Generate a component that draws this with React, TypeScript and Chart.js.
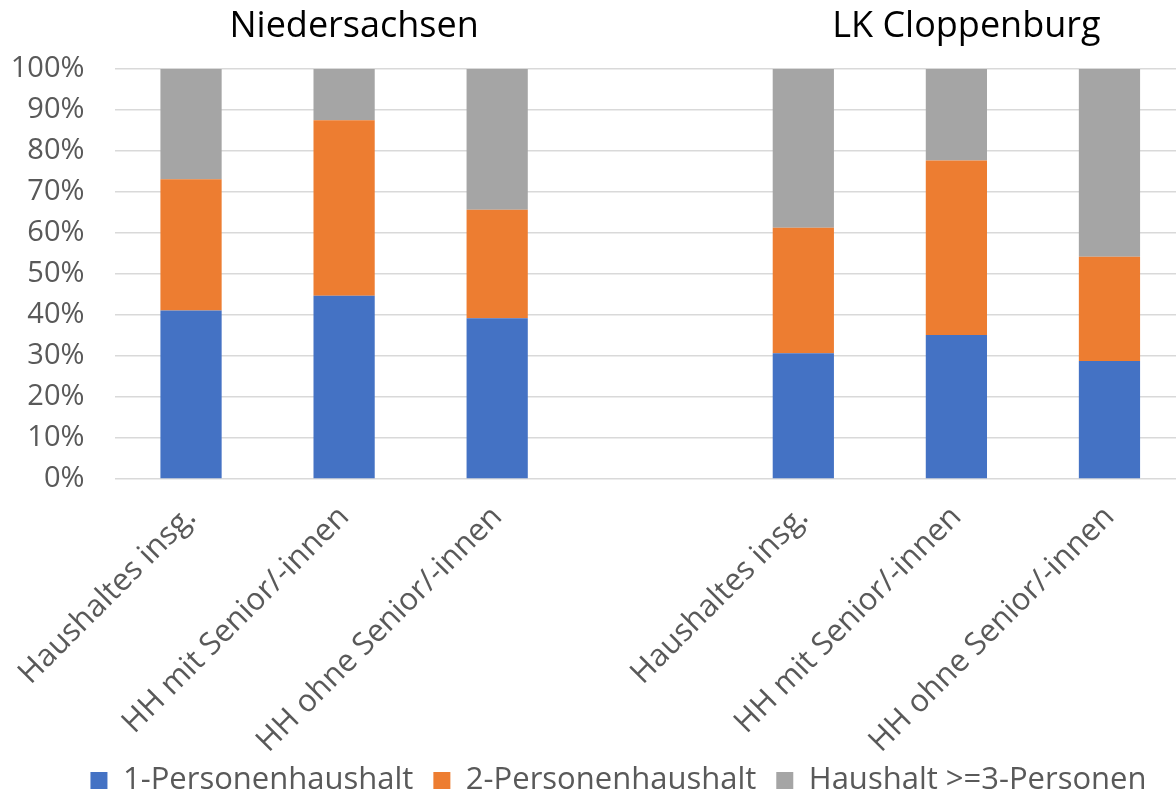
import React, { useEffect, useRef } from "react";
import { Chart, registerables } from "chart.js";

Chart.register(...registerables);

const categories = [
  "Haushaltes insg.",
  "HH mit Senior/-innen",
  "HH ohne Senior/-innen",
  "",
  "Haushaltes insg.",
  "HH mit Senior/-innen",
  "HH ohne Senior/-innen",
];
const groupTitles = ["Niedersachsen", "LK Cloppenburg"];
const groupTitleCategory = [1, 5];
const seriesNames = ["1-Personenhaushalt", "2-Personenhaushalt", "Haushalt >=3-Personen"];
const onePerson = [41.1, 44.7, 39.2, null, 30.7, 35.1, 28.8];
const twoPerson = [32.0, 42.8, 26.5, null, 30.6, 42.6, 25.4];
const threePlus = [26.9, 12.5, 34.3, null, 38.7, 22.3, 45.8];
const yMin = 0;
const yMax = 100;
const yStep = 10;

const FONT = '"Open Sans", "Noto Sans", sans-serif';

const groupTitlePlugin = {
  id: "groupTitles",
  afterDraw(chart: any) {
    const { ctx, scales } = chart;
    const x = scales.x;
    ctx.save();
    ctx.font = `36px ${FONT}`;
    ctx.fillStyle = "#000000";
    ctx.textAlign = "center";
    ctx.textBaseline = "middle";
    groupTitles.forEach((t, i) => {
      const px = x.getPixelForValue(groupTitleCategory[i]) + 10;
      ctx.fillText(t, px, 27);
    });
    ctx.restore();
  },
};

export default function App() {
  const ref = useRef<HTMLCanvasElement | null>(null);
  useEffect(() => {
    if (!ref.current) return;
    const chart = new Chart(ref.current, {
      type: "bar",
      data: {
        labels: categories,
        datasets: [
          { label: seriesNames[0], data: onePerson, backgroundColor: "#4472C4" },
          { label: seriesNames[1], data: twoPerson, backgroundColor: "#ED7D31" },
          { label: seriesNames[2], data: threePlus, backgroundColor: "#A5A5A5" },
        ],
      },
      options: {
        responsive: false,
        animation: false,
        devicePixelRatio: 1,
        datasets: { bar: { categoryPercentage: 1, barPercentage: 0.4 } },
        layout: { padding: { top: 69, left: 0, right: 0, bottom: 0 } },
        plugins: {
          tooltip: { enabled: false },
          title: { display: false },
          legend: {
            position: "bottom",
            labels: {
              boxWidth: 17,
              boxHeight: 17,
              padding: 20,
              color: "#595959",
              font: { family: FONT, size: 31 },
            },
          },
        },
        scales: {
          x: {
            stacked: true,
            grid: { display: false },
            border: { display: false },
            ticks: {
              color: "#595959",
              font: { family: FONT, size: 31 },
              maxRotation: 45,
              minRotation: 45,
              autoSkip: false,
              padding: 12,
            },
            afterFit: (s: any) => {
              s.height = 266;
              s._computeLabelArea = () => undefined;
            },
          },
          y: {
            stacked: true,
            min: yMin,
            max: yMax,
            border: { display: false },
            grid: { color: "#d9d9d9", lineWidth: 1.5, drawTicks: false },
            ticks: {
              stepSize: yStep,
              color: "#595959",
              font: { family: FONT, size: 29 },
              padding: 30,
              callback: (v: any) => `${v}%`,
            },
            afterFit: (s: any) => {
              s.width = 114.5;
            },
          },
          y2: {
            position: "right",
            display: true,
            grid: { display: false },
            border: { display: false },
            ticks: { display: false },
            afterFit: (s: any) => {
              s.width = 51;
            },
          },
        },
      },
      plugins: [groupTitlePlugin],
    });
    return () => chart.destroy();
  }, []);
  return (
    <div style={{ position: "fixed", left: 0, top: 0, width: 1176, height: 795, overflow: "hidden", background: "#fff" }}>
      <canvas ref={ref} width={1237} height={806} style={{ display: "block" }} />
    </div>
  );
}
